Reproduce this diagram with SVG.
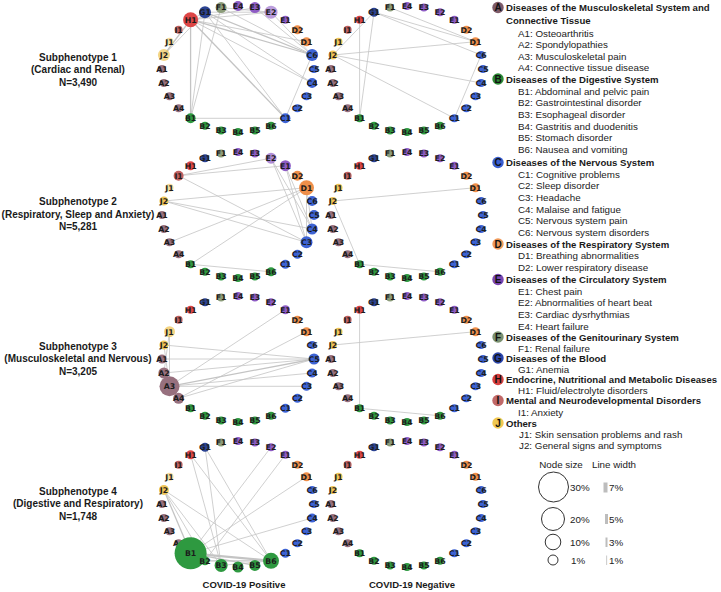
<svg xmlns="http://www.w3.org/2000/svg" width="721" height="592" viewBox="0 0 721 592">
<style>
.n text{font-family:"DejaVu Sans",sans-serif;font-weight:bold;font-size:7.8px;text-anchor:middle;fill:#1c1c1c}
.A circle{fill:#97707e}.B circle{fill:#2e9940}.C circle{fill:#3d63d4}.D circle{fill:#ef8f4a}.E circle{fill:#8e5cc4}
.F circle{fill:#8c9c7a}.G circle{fill:#2b4392}.H circle{fill:#dd4646}.I circle{fill:#c0605f}.J circle{fill:#f0c557}
.e line{stroke:#c4c4c4;stroke-width:0.8}
.e line.w2{stroke-width:1.3}.e line.w3{stroke-width:2.2}
.row{font-family:"Liberation Sans",Arial,sans-serif;font-weight:bold;font-size:10px;text-anchor:middle;fill:#1a1a1a}
.hd{font-family:"Liberation Sans",Arial,sans-serif;font-weight:bold;font-size:9.6px;fill:#1a1a1a}
.it{font-family:"Liberation Sans",Arial,sans-serif;font-size:9.8px;fill:#222}
.lc text{font-family:"Liberation Sans",Arial,sans-serif;font-weight:bold;font-size:10px;text-anchor:middle;fill:#111}
.sz{font-family:"Liberation Sans",Arial,sans-serif;font-size:9.8px;fill:#222}
</style>

<g id="connectors" class="e">
<g id="edges-p1-pos" transform="translate(238,69)">
<line class="w2" x1="-47.4" y1="-49.3" x2="-47.4" y2="49.3"/>
<line x1="-33" y1="-56.8" x2="-47.4" y2="49.3"/>
<line x1="-16.9" y1="-61.4" x2="-47.4" y2="49.3"/>
<line x1="-47.4" y1="49.3" x2="47.4" y2="49.3"/>
<line class="w2" x1="-47.4" y1="-49.3" x2="47.4" y2="49.3"/>
<line x1="-33" y1="-56.8" x2="47.4" y2="49.3"/>
<line x1="47.4" y1="49.3" x2="74.1" y2="-14"/>
<line class="w2" x1="-47.4" y1="-49.3" x2="74.1" y2="-14"/>
<line class="w2" x1="-33" y1="-56.8" x2="74.1" y2="-14"/>
<line x1="-16.9" y1="-61.4" x2="74.1" y2="-14"/>
<line x1="33" y1="-56.8" x2="74.1" y2="-14"/>
<line x1="16.9" y1="-61.4" x2="74.1" y2="-14"/>
<line x1="-47.4" y1="-49.3" x2="74.1" y2="14"/>
<line x1="-33" y1="-56.8" x2="74.1" y2="14"/>
<line class="w2" x1="-47.4" y1="-49.3" x2="-74.1" y2="-14"/>
<line x1="-33" y1="-56.8" x2="-74.1" y2="-14"/>
<line x1="-47.4" y1="-49.3" x2="33" y2="-56.8"/>
<line x1="-33" y1="-56.8" x2="33" y2="-56.8"/>
<line x1="-16.9" y1="-61.4" x2="33" y2="-56.8"/>
<line x1="-47.4" y1="-49.3" x2="16.9" y2="-61.4"/>
<line x1="-47.4" y1="-49.3" x2="68.5" y2="-27.3"/>
<line x1="-47.4" y1="-49.3" x2="-33" y2="-56.8"/>
</g>
<g id="edges-p1-neg" transform="translate(407,69)">
<line x1="-33" y1="-56.8" x2="-47.4" y2="49.3"/>
<line x1="-47.4" y1="-49.3" x2="-47.4" y2="49.3"/>
<line x1="-74.1" y1="-14" x2="68.5" y2="-27.3"/>
<line x1="-74.1" y1="-14" x2="74.1" y2="14"/>
<line x1="-74.1" y1="-14" x2="47.4" y2="49.3"/>
<line x1="-74.1" y1="-14" x2="-33" y2="-56.8"/>
<line x1="-33" y1="-56.8" x2="68.5" y2="-27.3"/>
<line x1="-33" y1="-56.8" x2="74.1" y2="-14"/>
<line x1="47.4" y1="49.3" x2="74.1" y2="-14"/>
<line x1="-16.9" y1="-61.4" x2="68.5" y2="-27.3"/>
</g>
<g id="edges-p2-pos" transform="translate(238,215)">
<line x1="-59.4" y1="-39.3" x2="47.4" y2="-49.3"/>
<line x1="-59.4" y1="-39.3" x2="33" y2="-56.8"/>
<line x1="-59.4" y1="-39.3" x2="68.5" y2="27.3"/>
<line x1="-74.1" y1="-14" x2="68.5" y2="-27.3"/>
<line x1="-74.1" y1="-14" x2="74.1" y2="14"/>
<line x1="-74.1" y1="-14" x2="68.5" y2="27.3"/>
<line x1="-68.5" y1="27.3" x2="68.5" y2="-27.3"/>
<line x1="-47.4" y1="49.3" x2="68.5" y2="-27.3"/>
<line x1="-47.4" y1="49.3" x2="33" y2="56.8"/>
<line x1="33" y1="-56.8" x2="68.5" y2="27.3"/>
<line x1="33" y1="-56.8" x2="74.1" y2="14"/>
<line x1="47.4" y1="-49.3" x2="68.5" y2="27.3"/>
<line x1="47.4" y1="-49.3" x2="74.1" y2="14"/>
<line x1="68.5" y1="-27.3" x2="68.5" y2="27.3"/>
<line x1="68.5" y1="-27.3" x2="74.1" y2="14"/>
</g>
<g id="edges-p2-neg" transform="translate(407,215)">
<line x1="-74.1" y1="-14" x2="68.5" y2="-27.3"/>
<line x1="-74.1" y1="-14" x2="-47.4" y2="49.3"/>
<line x1="-47.4" y1="49.3" x2="33" y2="56.8"/>
</g>
<g id="edges-p3-pos" transform="translate(238,359)">
<line x1="-68.5" y1="27.3" x2="47.4" y2="-49.3"/>
<line x1="-59.4" y1="39.3" x2="68.5" y2="-27.3"/>
<line class="w2" x1="-68.5" y1="27.3" x2="76" y2="0"/>
<line x1="-68.5" y1="27.3" x2="74.1" y2="14"/>
<line x1="-68.5" y1="27.3" x2="68.5" y2="27.3"/>
<line x1="-68.5" y1="-27.3" x2="-68.5" y2="27.3"/>
<line x1="-74.1" y1="-14" x2="-68.5" y2="27.3"/>
<line x1="-74.1" y1="-14" x2="76" y2="0"/>
<line x1="-76" y1="0" x2="76" y2="0"/>
<line x1="-74.1" y1="14" x2="76" y2="0"/>
<line x1="-59.4" y1="39.3" x2="76" y2="0"/>
<line x1="-68.5" y1="-27.3" x2="-74.1" y2="14"/>
</g>
<g id="edges-p3-neg" transform="translate(407,359)">
<line x1="-47.4" y1="-49.3" x2="-47.4" y2="49.3"/>
<line x1="-74.1" y1="-14" x2="68.5" y2="-27.3"/>
<line x1="-47.4" y1="49.3" x2="33" y2="56.8"/>
</g>
<g id="edges-p4-pos" transform="translate(238,504)">
<line class="w2" x1="-74.1" y1="-14" x2="-47.4" y2="49.3"/>
<line x1="-74.1" y1="-14" x2="-33" y2="56.8"/>
<line x1="-74.1" y1="-14" x2="-16.9" y2="61.4"/>
<line x1="-74.1" y1="-14" x2="33" y2="56.8"/>
<line x1="-47.4" y1="-49.3" x2="-16.9" y2="61.4"/>
<line x1="-47.4" y1="-49.3" x2="33" y2="56.8"/>
<line x1="-33" y1="-56.8" x2="-16.9" y2="61.4"/>
<line x1="-33" y1="-56.8" x2="33" y2="56.8"/>
<line x1="33" y1="-56.8" x2="-47.4" y2="49.3"/>
<line x1="47.4" y1="-49.3" x2="-33" y2="56.8"/>
<line x1="68.5" y1="-27.3" x2="-47.4" y2="49.3"/>
<line x1="74.1" y1="14" x2="-47.4" y2="49.3"/>
<line class="w3" x1="-47.4" y1="49.3" x2="33" y2="56.8"/>
<line class="w2" x1="-33" y1="56.8" x2="33" y2="56.8"/>
<line class="w2" x1="-47.4" y1="49.3" x2="16.9" y2="61.4"/>
<line x1="-16.9" y1="61.4" x2="33" y2="56.8"/>
</g>
<g id="edges-p4-neg" transform="translate(407,504)"></g>
</g>

<!-- Panel 1 positive -->
<g id="panel-p1-pos" transform="translate(238,69)">
<g id="p1p-C5" class="n C"><circle cx="76" cy="0" r="4"/><text x="76" y="2.8">C5</text></g>
<g id="p1p-C6" class="n C"><circle cx="74.1" cy="-14" r="6"/><text x="74.1" y="-11.2">C6</text></g>
<g id="p1p-D1" class="n D"><circle cx="68.5" cy="-27.3" r="4.5"/><text x="68.5" y="-24.5">D1</text></g>
<g id="p1p-D2" class="n D"><circle cx="59.4" cy="-39.3" r="4.5"/><text x="59.4" y="-36.5">D2</text></g>
<g id="p1p-E1" class="n E"><circle cx="47.4" cy="-49.3" r="4"/><text x="47.4" y="-46.5">E1</text></g>
<g id="p1p-E2" class="n E"><circle cx="33" cy="-56.8" r="6.5" fill-opacity="0.6"/><text x="33" y="-54">E2</text></g>
<g id="p1p-E3" class="n E"><circle cx="16.9" cy="-61.4" r="5.5"/><text x="16.9" y="-58.6">E3</text></g>
<g id="p1p-E4" class="n E"><circle cx="0" cy="-63" r="5"/><text x="0" y="-60.2">E4</text></g>
<g id="p1p-F1" class="n F"><circle cx="-16.9" cy="-61.4" r="5.5"/><text x="-16.9" y="-58.6">F1</text></g>
<g id="p1p-G1" class="n G"><circle cx="-33" cy="-56.8" r="6"/><text x="-33" y="-54">G1</text></g>
<g id="p1p-H1" class="n H"><circle cx="-47.4" cy="-49.3" r="7.5"/><text x="-47.4" y="-46.5">H1</text></g>
<g id="p1p-I1" class="n I"><circle cx="-59.4" cy="-39.3" r="4"/><text x="-59.4" y="-36.5">I1</text></g>
<g id="p1p-J1" class="n J"><circle cx="-68.5" cy="-27.3" r="4" fill-opacity="0.6"/><text x="-68.5" y="-24.5">J1</text></g>
<g id="p1p-J2" class="n J"><circle cx="-74.1" cy="-14" r="6" fill-opacity="0.7"/><text x="-74.1" y="-11.2">J2</text></g>
<g id="p1p-A1" class="n A"><circle cx="-76" cy="0" r="4"/><text x="-76" y="2.8">A1</text></g>
<g id="p1p-A2" class="n A"><circle cx="-74.1" cy="14" r="4"/><text x="-74.1" y="16.8">A2</text></g>
<g id="p1p-A3" class="n A"><circle cx="-68.5" cy="27.3" r="4"/><text x="-68.5" y="30.1">A3</text></g>
<g id="p1p-A4" class="n A"><circle cx="-59.4" cy="39.3" r="4"/><text x="-59.4" y="42.1">A4</text></g>
<g id="p1p-B1" class="n B"><circle cx="-47.4" cy="49.3" r="5"/><text x="-47.4" y="52.1">B1</text></g>
<g id="p1p-B2" class="n B"><circle cx="-33" cy="56.8" r="4"/><text x="-33" y="59.6">B2</text></g>
<g id="p1p-B3" class="n B"><circle cx="-16.9" cy="61.4" r="4"/><text x="-16.9" y="64.2">B3</text></g>
<g id="p1p-B4" class="n B"><circle cx="0" cy="63" r="4"/><text x="0" y="65.8">B4</text></g>
<g id="p1p-B5" class="n B"><circle cx="16.9" cy="61.4" r="4"/><text x="16.9" y="64.2">B5</text></g>
<g id="p1p-B6" class="n B"><circle cx="33" cy="56.8" r="4"/><text x="33" y="59.6">B6</text></g>
<g id="p1p-C1" class="n C"><circle cx="47.4" cy="49.3" r="5"/><text x="47.4" y="52.1">C1</text></g>
<g id="p1p-C2" class="n C"><circle cx="59.4" cy="39.3" r="4"/><text x="59.4" y="42.1">C2</text></g>
<g id="p1p-C3" class="n C"><circle cx="68.5" cy="27.3" r="4"/><text x="68.5" y="30.1">C3</text></g>
<g id="p1p-C4" class="n C"><circle cx="74.1" cy="14" r="5"/><text x="74.1" y="16.8">C4</text></g>
</g>

<!-- Panel 1 negative -->
<g id="panel-p1-neg" transform="translate(407,69)">
<g id="p1n-C5" class="n C"><circle cx="76" cy="0" r="4"/><text x="76" y="2.8">C5</text></g>
<g id="p1n-C6" class="n C"><circle cx="74.1" cy="-14" r="4"/><text x="74.1" y="-11.2">C6</text></g>
<g id="p1n-D1" class="n D"><circle cx="68.5" cy="-27.3" r="4.5"/><text x="68.5" y="-24.5">D1</text></g>
<g id="p1n-D2" class="n D"><circle cx="59.4" cy="-39.3" r="4"/><text x="59.4" y="-36.5">D2</text></g>
<g id="p1n-E1" class="n E"><circle cx="47.4" cy="-49.3" r="4"/><text x="47.4" y="-46.5">E1</text></g>
<g id="p1n-E2" class="n E"><circle cx="33" cy="-56.8" r="4"/><text x="33" y="-54">E2</text></g>
<g id="p1n-E3" class="n E"><circle cx="16.9" cy="-61.4" r="4"/><text x="16.9" y="-58.6">E3</text></g>
<g id="p1n-E4" class="n E"><circle cx="0" cy="-63" r="4"/><text x="0" y="-60.2">E4</text></g>
<g id="p1n-F1" class="n F"><circle cx="-16.9" cy="-61.4" r="4"/><text x="-16.9" y="-58.6">F1</text></g>
<g id="p1n-G1" class="n G"><circle cx="-33" cy="-56.8" r="4.5"/><text x="-33" y="-54">G1</text></g>
<g id="p1n-H1" class="n H"><circle cx="-47.4" cy="-49.3" r="4"/><text x="-47.4" y="-46.5">H1</text></g>
<g id="p1n-I1" class="n I"><circle cx="-59.4" cy="-39.3" r="4"/><text x="-59.4" y="-36.5">I1</text></g>
<g id="p1n-J1" class="n J"><circle cx="-68.5" cy="-27.3" r="4"/><text x="-68.5" y="-24.5">J1</text></g>
<g id="p1n-J2" class="n J"><circle cx="-74.1" cy="-14" r="4.5"/><text x="-74.1" y="-11.2">J2</text></g>
<g id="p1n-A1" class="n A"><circle cx="-76" cy="0" r="4"/><text x="-76" y="2.8">A1</text></g>
<g id="p1n-A2" class="n A"><circle cx="-74.1" cy="14" r="4"/><text x="-74.1" y="16.8">A2</text></g>
<g id="p1n-A3" class="n A"><circle cx="-68.5" cy="27.3" r="4"/><text x="-68.5" y="30.1">A3</text></g>
<g id="p1n-A4" class="n A"><circle cx="-59.4" cy="39.3" r="4"/><text x="-59.4" y="42.1">A4</text></g>
<g id="p1n-B1" class="n B"><circle cx="-47.4" cy="49.3" r="4"/><text x="-47.4" y="52.1">B1</text></g>
<g id="p1n-B2" class="n B"><circle cx="-33" cy="56.8" r="4"/><text x="-33" y="59.6">B2</text></g>
<g id="p1n-B3" class="n B"><circle cx="-16.9" cy="61.4" r="4"/><text x="-16.9" y="64.2">B3</text></g>
<g id="p1n-B4" class="n B"><circle cx="0" cy="63" r="4"/><text x="0" y="65.8">B4</text></g>
<g id="p1n-B5" class="n B"><circle cx="16.9" cy="61.4" r="4"/><text x="16.9" y="64.2">B5</text></g>
<g id="p1n-B6" class="n B"><circle cx="33" cy="56.8" r="4"/><text x="33" y="59.6">B6</text></g>
<g id="p1n-C1" class="n C"><circle cx="47.4" cy="49.3" r="4"/><text x="47.4" y="52.1">C1</text></g>
<g id="p1n-C2" class="n C"><circle cx="59.4" cy="39.3" r="4"/><text x="59.4" y="42.1">C2</text></g>
<g id="p1n-C3" class="n C"><circle cx="68.5" cy="27.3" r="4"/><text x="68.5" y="30.1">C3</text></g>
<g id="p1n-C4" class="n C"><circle cx="74.1" cy="14" r="4"/><text x="74.1" y="16.8">C4</text></g>
</g>

<!-- Panel 2 positive -->
<g id="panel-p2-pos" transform="translate(238,215)">
<g id="p2p-C5" class="n C"><circle cx="76" cy="0" r="5"/><text x="76" y="2.8">C5</text></g>
<g id="p2p-C6" class="n C"><circle cx="74.1" cy="-14" r="5"/><text x="74.1" y="-11.2">C6</text></g>
<g id="p2p-D1" class="n D"><circle cx="68.5" cy="-27.3" r="7.5"/><text x="68.5" y="-24.5">D1</text></g>
<g id="p2p-D2" class="n D"><circle cx="59.4" cy="-39.3" r="5"/><text x="59.4" y="-36.5">D2</text></g>
<g id="p2p-E1" class="n E"><circle cx="47.4" cy="-49.3" r="5.5"/><text x="47.4" y="-46.5">E1</text></g>
<g id="p2p-E2" class="n E"><circle cx="33" cy="-56.8" r="5.5" fill-opacity="0.7"/><text x="33" y="-54">E2</text></g>
<g id="p2p-E3" class="n E"><circle cx="16.9" cy="-61.4" r="4"/><text x="16.9" y="-58.6">E3</text></g>
<g id="p2p-E4" class="n E"><circle cx="0" cy="-63" r="4"/><text x="0" y="-60.2">E4</text></g>
<g id="p2p-F1" class="n F"><circle cx="-16.9" cy="-61.4" r="4"/><text x="-16.9" y="-58.6">F1</text></g>
<g id="p2p-G1" class="n G"><circle cx="-33" cy="-56.8" r="4"/><text x="-33" y="-54">G1</text></g>
<g id="p2p-H1" class="n H"><circle cx="-47.4" cy="-49.3" r="4.5"/><text x="-47.4" y="-46.5">H1</text></g>
<g id="p2p-I1" class="n I"><circle cx="-59.4" cy="-39.3" r="5"/><text x="-59.4" y="-36.5">I1</text></g>
<g id="p2p-J1" class="n J"><circle cx="-68.5" cy="-27.3" r="4" fill-opacity="0.6"/><text x="-68.5" y="-24.5">J1</text></g>
<g id="p2p-J2" class="n J"><circle cx="-74.1" cy="-14" r="4.5"/><text x="-74.1" y="-11.2">J2</text></g>
<g id="p2p-A1" class="n A"><circle cx="-76" cy="0" r="4"/><text x="-76" y="2.8">A1</text></g>
<g id="p2p-A2" class="n A"><circle cx="-74.1" cy="14" r="4"/><text x="-74.1" y="16.8">A2</text></g>
<g id="p2p-A3" class="n A"><circle cx="-68.5" cy="27.3" r="4"/><text x="-68.5" y="30.1">A3</text></g>
<g id="p2p-A4" class="n A"><circle cx="-59.4" cy="39.3" r="4"/><text x="-59.4" y="42.1">A4</text></g>
<g id="p2p-B1" class="n B"><circle cx="-47.4" cy="49.3" r="4"/><text x="-47.4" y="52.1">B1</text></g>
<g id="p2p-B2" class="n B"><circle cx="-33" cy="56.8" r="4"/><text x="-33" y="59.6">B2</text></g>
<g id="p2p-B3" class="n B"><circle cx="-16.9" cy="61.4" r="4"/><text x="-16.9" y="64.2">B3</text></g>
<g id="p2p-B4" class="n B"><circle cx="0" cy="63" r="4"/><text x="0" y="65.8">B4</text></g>
<g id="p2p-B5" class="n B"><circle cx="16.9" cy="61.4" r="4"/><text x="16.9" y="64.2">B5</text></g>
<g id="p2p-B6" class="n B"><circle cx="33" cy="56.8" r="4.5"/><text x="33" y="59.6">B6</text></g>
<g id="p2p-C1" class="n C"><circle cx="47.4" cy="49.3" r="4.5"/><text x="47.4" y="52.1">C1</text></g>
<g id="p2p-C2" class="n C"><circle cx="59.4" cy="39.3" r="4.5"/><text x="59.4" y="42.1">C2</text></g>
<g id="p2p-C3" class="n C"><circle cx="68.5" cy="27.3" r="6"/><text x="68.5" y="30.1">C3</text></g>
<g id="p2p-C4" class="n C"><circle cx="74.1" cy="14" r="5.5"/><text x="74.1" y="16.8">C4</text></g>
</g>

<!-- Panel 2 negative -->
<g id="panel-p2-neg" transform="translate(407,215)">
<g id="p2n-C5" class="n C"><circle cx="76" cy="0" r="4"/><text x="76" y="2.8">C5</text></g>
<g id="p2n-C6" class="n C"><circle cx="74.1" cy="-14" r="4"/><text x="74.1" y="-11.2">C6</text></g>
<g id="p2n-D1" class="n D"><circle cx="68.5" cy="-27.3" r="4.5"/><text x="68.5" y="-24.5">D1</text></g>
<g id="p2n-D2" class="n D"><circle cx="59.4" cy="-39.3" r="4"/><text x="59.4" y="-36.5">D2</text></g>
<g id="p2n-E1" class="n E"><circle cx="47.4" cy="-49.3" r="4"/><text x="47.4" y="-46.5">E1</text></g>
<g id="p2n-E2" class="n E"><circle cx="33" cy="-56.8" r="4"/><text x="33" y="-54">E2</text></g>
<g id="p2n-E3" class="n E"><circle cx="16.9" cy="-61.4" r="4"/><text x="16.9" y="-58.6">E3</text></g>
<g id="p2n-E4" class="n E"><circle cx="0" cy="-63" r="4"/><text x="0" y="-60.2">E4</text></g>
<g id="p2n-F1" class="n F"><circle cx="-16.9" cy="-61.4" r="4"/><text x="-16.9" y="-58.6">F1</text></g>
<g id="p2n-G1" class="n G"><circle cx="-33" cy="-56.8" r="4"/><text x="-33" y="-54">G1</text></g>
<g id="p2n-H1" class="n H"><circle cx="-47.4" cy="-49.3" r="4"/><text x="-47.4" y="-46.5">H1</text></g>
<g id="p2n-I1" class="n I"><circle cx="-59.4" cy="-39.3" r="4"/><text x="-59.4" y="-36.5">I1</text></g>
<g id="p2n-J1" class="n J"><circle cx="-68.5" cy="-27.3" r="4"/><text x="-68.5" y="-24.5">J1</text></g>
<g id="p2n-J2" class="n J"><circle cx="-74.1" cy="-14" r="4"/><text x="-74.1" y="-11.2">J2</text></g>
<g id="p2n-A1" class="n A"><circle cx="-76" cy="0" r="4"/><text x="-76" y="2.8">A1</text></g>
<g id="p2n-A2" class="n A"><circle cx="-74.1" cy="14" r="4"/><text x="-74.1" y="16.8">A2</text></g>
<g id="p2n-A3" class="n A"><circle cx="-68.5" cy="27.3" r="4"/><text x="-68.5" y="30.1">A3</text></g>
<g id="p2n-A4" class="n A"><circle cx="-59.4" cy="39.3" r="4"/><text x="-59.4" y="42.1">A4</text></g>
<g id="p2n-B1" class="n B"><circle cx="-47.4" cy="49.3" r="4"/><text x="-47.4" y="52.1">B1</text></g>
<g id="p2n-B2" class="n B"><circle cx="-33" cy="56.8" r="4"/><text x="-33" y="59.6">B2</text></g>
<g id="p2n-B3" class="n B"><circle cx="-16.9" cy="61.4" r="4"/><text x="-16.9" y="64.2">B3</text></g>
<g id="p2n-B4" class="n B"><circle cx="0" cy="63" r="4"/><text x="0" y="65.8">B4</text></g>
<g id="p2n-B5" class="n B"><circle cx="16.9" cy="61.4" r="4"/><text x="16.9" y="64.2">B5</text></g>
<g id="p2n-B6" class="n B"><circle cx="33" cy="56.8" r="4"/><text x="33" y="59.6">B6</text></g>
<g id="p2n-C1" class="n C"><circle cx="47.4" cy="49.3" r="4"/><text x="47.4" y="52.1">C1</text></g>
<g id="p2n-C2" class="n C"><circle cx="59.4" cy="39.3" r="4"/><text x="59.4" y="42.1">C2</text></g>
<g id="p2n-C3" class="n C"><circle cx="68.5" cy="27.3" r="4"/><text x="68.5" y="30.1">C3</text></g>
<g id="p2n-C4" class="n C"><circle cx="74.1" cy="14" r="4"/><text x="74.1" y="16.8">C4</text></g>
</g>

<!-- Panel 3 positive -->
<g id="panel-p3-pos" transform="translate(238,359)">
<g id="p3p-C5" class="n C"><circle cx="76" cy="0" r="5.5"/><text x="76" y="2.8">C5</text></g>
<g id="p3p-C6" class="n C"><circle cx="74.1" cy="-14" r="4"/><text x="74.1" y="-11.2">C6</text></g>
<g id="p3p-D1" class="n D"><circle cx="68.5" cy="-27.3" r="4.5"/><text x="68.5" y="-24.5">D1</text></g>
<g id="p3p-D2" class="n D"><circle cx="59.4" cy="-39.3" r="4"/><text x="59.4" y="-36.5">D2</text></g>
<g id="p3p-E1" class="n E"><circle cx="47.4" cy="-49.3" r="4.5"/><text x="47.4" y="-46.5">E1</text></g>
<g id="p3p-E2" class="n E"><circle cx="33" cy="-56.8" r="4"/><text x="33" y="-54">E2</text></g>
<g id="p3p-E3" class="n E"><circle cx="16.9" cy="-61.4" r="4"/><text x="16.9" y="-58.6">E3</text></g>
<g id="p3p-E4" class="n E"><circle cx="0" cy="-63" r="4"/><text x="0" y="-60.2">E4</text></g>
<g id="p3p-F1" class="n F"><circle cx="-16.9" cy="-61.4" r="4"/><text x="-16.9" y="-58.6">F1</text></g>
<g id="p3p-G1" class="n G"><circle cx="-33" cy="-56.8" r="4"/><text x="-33" y="-54">G1</text></g>
<g id="p3p-H1" class="n H"><circle cx="-47.4" cy="-49.3" r="4"/><text x="-47.4" y="-46.5">H1</text></g>
<g id="p3p-I1" class="n I"><circle cx="-59.4" cy="-39.3" r="4"/><text x="-59.4" y="-36.5">I1</text></g>
<g id="p3p-J1" class="n J"><circle cx="-68.5" cy="-27.3" r="5.5" fill-opacity="0.75"/><text x="-68.5" y="-24.5">J1</text></g>
<g id="p3p-J2" class="n J"><circle cx="-74.1" cy="-14" r="4.5"/><text x="-74.1" y="-11.2">J2</text></g>
<g id="p3p-A1" class="n A"><circle cx="-76" cy="0" r="4.5"/><text x="-76" y="2.8">A1</text></g>
<g id="p3p-A2" class="n A"><circle cx="-74.1" cy="14" r="5.5"/><text x="-74.1" y="16.8">A2</text></g>
<g id="p3p-A3" class="n A"><circle cx="-68.5" cy="27.3" r="10"/><text x="-68.5" y="30.1">A3</text></g>
<g id="p3p-A4" class="n A"><circle cx="-59.4" cy="39.3" r="5.5"/><text x="-59.4" y="42.1">A4</text></g>
<g id="p3p-B1" class="n B"><circle cx="-47.4" cy="49.3" r="4"/><text x="-47.4" y="52.1">B1</text></g>
<g id="p3p-B2" class="n B"><circle cx="-33" cy="56.8" r="4"/><text x="-33" y="59.6">B2</text></g>
<g id="p3p-B3" class="n B"><circle cx="-16.9" cy="61.4" r="4"/><text x="-16.9" y="64.2">B3</text></g>
<g id="p3p-B4" class="n B"><circle cx="0" cy="63" r="4"/><text x="0" y="65.8">B4</text></g>
<g id="p3p-B5" class="n B"><circle cx="16.9" cy="61.4" r="4"/><text x="16.9" y="64.2">B5</text></g>
<g id="p3p-B6" class="n B"><circle cx="33" cy="56.8" r="4"/><text x="33" y="59.6">B6</text></g>
<g id="p3p-C1" class="n C"><circle cx="47.4" cy="49.3" r="4.5"/><text x="47.4" y="52.1">C1</text></g>
<g id="p3p-C2" class="n C"><circle cx="59.4" cy="39.3" r="4.5"/><text x="59.4" y="42.1">C2</text></g>
<g id="p3p-C3" class="n C"><circle cx="68.5" cy="27.3" r="4.5"/><text x="68.5" y="30.1">C3</text></g>
<g id="p3p-C4" class="n C"><circle cx="74.1" cy="14" r="4.5"/><text x="74.1" y="16.8">C4</text></g>
</g>

<!-- Panel 3 negative -->
<g id="panel-p3-neg" transform="translate(407,359)">
<g id="p3n-C5" class="n C"><circle cx="76" cy="0" r="4"/><text x="76" y="2.8">C5</text></g>
<g id="p3n-C6" class="n C"><circle cx="74.1" cy="-14" r="4"/><text x="74.1" y="-11.2">C6</text></g>
<g id="p3n-D1" class="n D"><circle cx="68.5" cy="-27.3" r="4.5"/><text x="68.5" y="-24.5">D1</text></g>
<g id="p3n-D2" class="n D"><circle cx="59.4" cy="-39.3" r="4"/><text x="59.4" y="-36.5">D2</text></g>
<g id="p3n-E1" class="n E"><circle cx="47.4" cy="-49.3" r="4"/><text x="47.4" y="-46.5">E1</text></g>
<g id="p3n-E2" class="n E"><circle cx="33" cy="-56.8" r="4"/><text x="33" y="-54">E2</text></g>
<g id="p3n-E3" class="n E"><circle cx="16.9" cy="-61.4" r="4"/><text x="16.9" y="-58.6">E3</text></g>
<g id="p3n-E4" class="n E"><circle cx="0" cy="-63" r="4"/><text x="0" y="-60.2">E4</text></g>
<g id="p3n-F1" class="n F"><circle cx="-16.9" cy="-61.4" r="4"/><text x="-16.9" y="-58.6">F1</text></g>
<g id="p3n-G1" class="n G"><circle cx="-33" cy="-56.8" r="4"/><text x="-33" y="-54">G1</text></g>
<g id="p3n-H1" class="n H"><circle cx="-47.4" cy="-49.3" r="4"/><text x="-47.4" y="-46.5">H1</text></g>
<g id="p3n-I1" class="n I"><circle cx="-59.4" cy="-39.3" r="4"/><text x="-59.4" y="-36.5">I1</text></g>
<g id="p3n-J1" class="n J"><circle cx="-68.5" cy="-27.3" r="4"/><text x="-68.5" y="-24.5">J1</text></g>
<g id="p3n-J2" class="n J"><circle cx="-74.1" cy="-14" r="4"/><text x="-74.1" y="-11.2">J2</text></g>
<g id="p3n-A1" class="n A"><circle cx="-76" cy="0" r="4"/><text x="-76" y="2.8">A1</text></g>
<g id="p3n-A2" class="n A"><circle cx="-74.1" cy="14" r="4"/><text x="-74.1" y="16.8">A2</text></g>
<g id="p3n-A3" class="n A"><circle cx="-68.5" cy="27.3" r="4"/><text x="-68.5" y="30.1">A3</text></g>
<g id="p3n-A4" class="n A"><circle cx="-59.4" cy="39.3" r="4"/><text x="-59.4" y="42.1">A4</text></g>
<g id="p3n-B1" class="n B"><circle cx="-47.4" cy="49.3" r="4"/><text x="-47.4" y="52.1">B1</text></g>
<g id="p3n-B2" class="n B"><circle cx="-33" cy="56.8" r="4"/><text x="-33" y="59.6">B2</text></g>
<g id="p3n-B3" class="n B"><circle cx="-16.9" cy="61.4" r="4"/><text x="-16.9" y="64.2">B3</text></g>
<g id="p3n-B4" class="n B"><circle cx="0" cy="63" r="4"/><text x="0" y="65.8">B4</text></g>
<g id="p3n-B5" class="n B"><circle cx="16.9" cy="61.4" r="4"/><text x="16.9" y="64.2">B5</text></g>
<g id="p3n-B6" class="n B"><circle cx="33" cy="56.8" r="4"/><text x="33" y="59.6">B6</text></g>
<g id="p3n-C1" class="n C"><circle cx="47.4" cy="49.3" r="4"/><text x="47.4" y="52.1">C1</text></g>
<g id="p3n-C2" class="n C"><circle cx="59.4" cy="39.3" r="4"/><text x="59.4" y="42.1">C2</text></g>
<g id="p3n-C3" class="n C"><circle cx="68.5" cy="27.3" r="4"/><text x="68.5" y="30.1">C3</text></g>
<g id="p3n-C4" class="n C"><circle cx="74.1" cy="14" r="4"/><text x="74.1" y="16.8">C4</text></g>
</g>

<!-- Panel 4 positive -->
<g id="panel-p4-pos" transform="translate(238,504)">
<g id="p4p-C5" class="n C"><circle cx="76" cy="0" r="4"/><text x="76" y="2.8">C5</text></g>
<g id="p4p-C6" class="n C"><circle cx="74.1" cy="-14" r="4"/><text x="74.1" y="-11.2">C6</text></g>
<g id="p4p-D1" class="n D"><circle cx="68.5" cy="-27.3" r="4.5"/><text x="68.5" y="-24.5">D1</text></g>
<g id="p4p-D2" class="n D"><circle cx="59.4" cy="-39.3" r="4"/><text x="59.4" y="-36.5">D2</text></g>
<g id="p4p-E1" class="n E"><circle cx="47.4" cy="-49.3" r="4"/><text x="47.4" y="-46.5">E1</text></g>
<g id="p4p-E2" class="n E"><circle cx="33" cy="-56.8" r="4"/><text x="33" y="-54">E2</text></g>
<g id="p4p-E3" class="n E"><circle cx="16.9" cy="-61.4" r="4"/><text x="16.9" y="-58.6">E3</text></g>
<g id="p4p-E4" class="n E"><circle cx="0" cy="-63" r="4"/><text x="0" y="-60.2">E4</text></g>
<g id="p4p-F1" class="n F"><circle cx="-16.9" cy="-61.4" r="4"/><text x="-16.9" y="-58.6">F1</text></g>
<g id="p4p-G1" class="n G"><circle cx="-33" cy="-56.8" r="4.5"/><text x="-33" y="-54">G1</text></g>
<g id="p4p-H1" class="n H"><circle cx="-47.4" cy="-49.3" r="4.5"/><text x="-47.4" y="-46.5">H1</text></g>
<g id="p4p-I1" class="n I"><circle cx="-59.4" cy="-39.3" r="4"/><text x="-59.4" y="-36.5">I1</text></g>
<g id="p4p-J1" class="n J"><circle cx="-68.5" cy="-27.3" r="4" fill-opacity="0.6"/><text x="-68.5" y="-24.5">J1</text></g>
<g id="p4p-J2" class="n J"><circle cx="-74.1" cy="-14" r="5"/><text x="-74.1" y="-11.2">J2</text></g>
<g id="p4p-A1" class="n A"><circle cx="-76" cy="0" r="4"/><text x="-76" y="2.8">A1</text></g>
<g id="p4p-A2" class="n A"><circle cx="-74.1" cy="14" r="4"/><text x="-74.1" y="16.8">A2</text></g>
<g id="p4p-A3" class="n A"><circle cx="-68.5" cy="27.3" r="4"/><text x="-68.5" y="30.1">A3</text></g>
<g id="p4p-A4" class="n A"><circle cx="-59.4" cy="39.3" r="4"/><text x="-59.4" y="42.1">A4</text></g>
<g id="p4p-B1" class="n B"><circle cx="-47.4" cy="49.3" r="16"/><text x="-47.4" y="52.1">B1</text></g>
<g id="p4p-B2" class="n B"><circle cx="-33" cy="56.8" r="4.5"/><text x="-33" y="59.6">B2</text></g>
<g id="p4p-B3" class="n B"><circle cx="-16.9" cy="61.4" r="6.5"/><text x="-16.9" y="64.2">B3</text></g>
<g id="p4p-B4" class="n B"><circle cx="0" cy="63" r="5.5"/><text x="0" y="65.8">B4</text></g>
<g id="p4p-B5" class="n B"><circle cx="16.9" cy="61.4" r="5.5"/><text x="16.9" y="64.2">B5</text></g>
<g id="p4p-B6" class="n B"><circle cx="33" cy="56.8" r="8"/><text x="33" y="59.6">B6</text></g>
<g id="p4p-C1" class="n C"><circle cx="47.4" cy="49.3" r="4.5"/><text x="47.4" y="52.1">C1</text></g>
<g id="p4p-C2" class="n C"><circle cx="59.4" cy="39.3" r="4"/><text x="59.4" y="42.1">C2</text></g>
<g id="p4p-C3" class="n C"><circle cx="68.5" cy="27.3" r="4"/><text x="68.5" y="30.1">C3</text></g>
<g id="p4p-C4" class="n C"><circle cx="74.1" cy="14" r="4.5"/><text x="74.1" y="16.8">C4</text></g>
</g>

<!-- Panel 4 negative -->
<g id="panel-p4-neg" transform="translate(407,504)">
<g id="p4n-C5" class="n C"><circle cx="76" cy="0" r="4"/><text x="76" y="2.8">C5</text></g>
<g id="p4n-C6" class="n C"><circle cx="74.1" cy="-14" r="4"/><text x="74.1" y="-11.2">C6</text></g>
<g id="p4n-D1" class="n D"><circle cx="68.5" cy="-27.3" r="4"/><text x="68.5" y="-24.5">D1</text></g>
<g id="p4n-D2" class="n D"><circle cx="59.4" cy="-39.3" r="4"/><text x="59.4" y="-36.5">D2</text></g>
<g id="p4n-E1" class="n E"><circle cx="47.4" cy="-49.3" r="4"/><text x="47.4" y="-46.5">E1</text></g>
<g id="p4n-E2" class="n E"><circle cx="33" cy="-56.8" r="4"/><text x="33" y="-54">E2</text></g>
<g id="p4n-E3" class="n E"><circle cx="16.9" cy="-61.4" r="4"/><text x="16.9" y="-58.6">E3</text></g>
<g id="p4n-E4" class="n E"><circle cx="0" cy="-63" r="4"/><text x="0" y="-60.2">E4</text></g>
<g id="p4n-F1" class="n F"><circle cx="-16.9" cy="-61.4" r="4"/><text x="-16.9" y="-58.6">F1</text></g>
<g id="p4n-G1" class="n G"><circle cx="-33" cy="-56.8" r="4"/><text x="-33" y="-54">G1</text></g>
<g id="p4n-H1" class="n H"><circle cx="-47.4" cy="-49.3" r="4"/><text x="-47.4" y="-46.5">H1</text></g>
<g id="p4n-I1" class="n I"><circle cx="-59.4" cy="-39.3" r="4"/><text x="-59.4" y="-36.5">I1</text></g>
<g id="p4n-J1" class="n J"><circle cx="-68.5" cy="-27.3" r="4"/><text x="-68.5" y="-24.5">J1</text></g>
<g id="p4n-J2" class="n J"><circle cx="-74.1" cy="-14" r="4"/><text x="-74.1" y="-11.2">J2</text></g>
<g id="p4n-A1" class="n A"><circle cx="-76" cy="0" r="4"/><text x="-76" y="2.8">A1</text></g>
<g id="p4n-A2" class="n A"><circle cx="-74.1" cy="14" r="4"/><text x="-74.1" y="16.8">A2</text></g>
<g id="p4n-A3" class="n A"><circle cx="-68.5" cy="27.3" r="4"/><text x="-68.5" y="30.1">A3</text></g>
<g id="p4n-A4" class="n A"><circle cx="-59.4" cy="39.3" r="4"/><text x="-59.4" y="42.1">A4</text></g>
<g id="p4n-B1" class="n B"><circle cx="-47.4" cy="49.3" r="4"/><text x="-47.4" y="52.1">B1</text></g>
<g id="p4n-B2" class="n B"><circle cx="-33" cy="56.8" r="4"/><text x="-33" y="59.6">B2</text></g>
<g id="p4n-B3" class="n B"><circle cx="-16.9" cy="61.4" r="4"/><text x="-16.9" y="64.2">B3</text></g>
<g id="p4n-B4" class="n B"><circle cx="0" cy="63" r="4"/><text x="0" y="65.8">B4</text></g>
<g id="p4n-B5" class="n B"><circle cx="16.9" cy="61.4" r="4"/><text x="16.9" y="64.2">B5</text></g>
<g id="p4n-B6" class="n B"><circle cx="33" cy="56.8" r="4"/><text x="33" y="59.6">B6</text></g>
<g id="p4n-C1" class="n C"><circle cx="47.4" cy="49.3" r="4"/><text x="47.4" y="52.1">C1</text></g>
<g id="p4n-C2" class="n C"><circle cx="59.4" cy="39.3" r="4"/><text x="59.4" y="42.1">C2</text></g>
<g id="p4n-C3" class="n C"><circle cx="68.5" cy="27.3" r="4"/><text x="68.5" y="30.1">C3</text></g>
<g id="p4n-C4" class="n C"><circle cx="74.1" cy="14" r="4"/><text x="74.1" y="16.8">C4</text></g>
</g>

<!-- Row labels -->
<g id="row-labels" class="row">
<text x="78" y="60.5">Subphenotype 1</text>
<text x="78" y="73">(Cardiac and Renal)</text>
<text x="78" y="85.5">N=3,490</text>
<text x="78" y="205">Subphenotype 2</text>
<text x="78" y="217.5">(Respiratory, Sleep and Anxiety)</text>
<text x="78" y="230">N=5,281</text>
<text x="78" y="349.5">Subphenotype 3</text>
<text x="78" y="362">(Musculoskeletal and Nervous)</text>
<text x="78" y="374.5">N=3,205</text>
<text x="78" y="494.5">Subphenotype 4</text>
<text x="78" y="507">(Digestive and Respiratory)</text>
<text x="78" y="519.5">N=1,748</text>
</g>
<g id="column-labels" class="row" style="font-size:9.5px">
<text x="244" y="587.5">COVID-19 Positive</text>
<text x="412" y="587.5">COVID-19 Negative</text>
</g>

<!-- Category legend -->
<g id="legend">
<g class="lc">
<circle cx="498" cy="7.5" r="5.7" fill="#7d5a68"/><text x="498" y="11">A</text>
<circle cx="498" cy="79" r="5.7" fill="#2d8a35"/><text x="498" y="82.5">B</text>
<circle cx="498" cy="162.5" r="5.7" fill="#3a5fd0"/><text x="498" y="166">C</text>
<circle cx="498" cy="244" r="5.7" fill="#f09a5a"/><text x="498" y="247.5">D</text>
<circle cx="498" cy="279.5" r="5.7" fill="#7a45b0"/><text x="498" y="283">E</text>
<circle cx="498" cy="337" r="5.7" fill="#7a9070"/><text x="498" y="340.5">F</text>
<circle cx="498" cy="358" r="5.7" fill="#2a44a8"/><text x="498" y="361.5">G</text>
<circle cx="498" cy="379.5" r="5.7" fill="#d84040"/><text x="498" y="383">H</text>
<circle cx="498" cy="400.5" r="5.7" fill="#c06868"/><text x="498" y="404">I</text>
<circle cx="498" cy="423" r="5.7" fill="#f0c850"/><text x="498" y="426.5">J</text>
</g>
<g class="hd">
<text x="506" y="11">Diseases of the Musculoskeletal System and</text>
<text x="506" y="24">Connective Tissue</text>
<text x="506" y="82.5">Diseases of the Digestive System</text>
<text x="506" y="166">Diseases of the Nervous System</text>
<text x="506" y="247.5">Diseases of the Respiratory System</text>
<text x="506" y="283">Diseases of the Circulatory System</text>
<text x="506" y="340.5">Diseases of the Genitourinary System</text>
<text x="506" y="361.5">Diseases of the Blood</text>
<text x="506" y="383">Endocrine, Nutritional and Metabolic Diseases</text>
<text x="506" y="404">Mental and Neurodevelopmental Disorders</text>
<text x="506" y="426.5">Others</text>
</g>
<g class="it">
<text x="518" y="36.5">A1: Osteoarthritis</text>
<text x="518" y="48">A2: Spondylopathies</text>
<text x="518" y="59.5">A3: Musculoskeletal pain</text>
<text x="518" y="71">A4: Connective tissue disease</text>
<text x="518" y="94.5">B1: Abdominal and pelvic pain</text>
<text x="518" y="106">B2: Gastrointestinal disorder</text>
<text x="518" y="118">B3: Esophageal disorder</text>
<text x="518" y="129.5">B4: Gastritis and duodenitis</text>
<text x="518" y="141">B5: Stomach disorder</text>
<text x="518" y="153">B6: Nausea and vomiting</text>
<text x="518" y="177.5">C1: Cognitive problems</text>
<text x="518" y="189">C2: Sleep disorder</text>
<text x="518" y="200.5">C3: Headache</text>
<text x="518" y="212.5">C4: Malaise and fatigue</text>
<text x="518" y="224">C5: Nervous system pain</text>
<text x="518" y="235.5">C6: Nervous system disorders</text>
<text x="518" y="259">D1: Breathing abnormalities</text>
<text x="518" y="271">D2: Lower respiratory disease</text>
<text x="518" y="294.5">E1: Chest pain</text>
<text x="518" y="306">E2: Abnormalities of heart beat</text>
<text x="518" y="318">E3: Cardiac dysrhythmias</text>
<text x="518" y="329.5">E4: Heart failure</text>
<text x="518" y="352">F1: Renal failure</text>
<text x="518" y="372.5">G1: Anemia</text>
<text x="518" y="393.5">H1: Fluid/electrolyte disorders</text>
<text x="518" y="416">I1: Anxiety</text>
<text x="519" y="437.5">J1: Skin sensation problems and rash</text>
<text x="519" y="449">J2: General signs and symptoms</text>
</g>
</g>

<!-- Size legend -->
<g id="size-legend">
<text class="sz" x="561" y="467.5" text-anchor="middle">Node size</text>
<text class="sz" x="614" y="467.5" text-anchor="middle">Line width</text>
<g fill="none" stroke="#333" stroke-width="1">
<circle cx="553.5" cy="487" r="15"/>
<circle cx="553" cy="519" r="11.5"/>
<circle cx="553" cy="542" r="7.8"/>
<circle cx="553" cy="560" r="5"/>
</g>
<g fill="#bdbdbd">
<rect x="603.5" y="482.5" width="4" height="10"/>
<rect x="605" y="514" width="3" height="10"/>
<rect x="605.5" y="537.5" width="2" height="9.5"/>
<rect x="606.3" y="555.5" width="0.8" height="9.5"/>
</g>
<g class="sz">
<text x="570" y="490.5">30%</text>
<text x="570" y="522.5">20%</text>
<text x="570" y="545.5">10%</text>
<text x="571" y="563.5">1%</text>
<text x="609" y="490.5">7%</text>
<text x="609" y="522.5">5%</text>
<text x="609" y="545.5">3%</text>
<text x="609" y="563.5">1%</text>
</g>
</g>
</svg>
